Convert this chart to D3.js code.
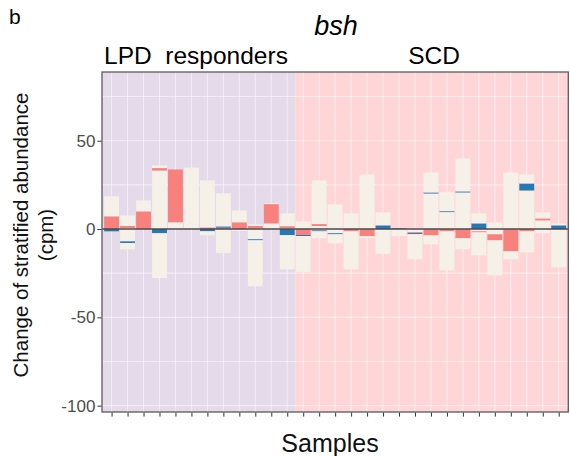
<!DOCTYPE html>
<html>
<head>
<meta charset="utf-8">
<script src="https://cdn.jsdelivr.net/npm/d3@7"></script>
<style>
  body { margin: 0; background: #fff; }
  text { font-family: "Liberation Sans", Arial, sans-serif; }
</style>
</head>
<body>
<div id="chart"></div>
<script>
var svgWidth = 570;
var svgHeight = 456;

var panel = { left: 102, right: 568.3, top: 72, bottom: 412 };

// samples, in plot order
var samples = d3.range(1, 30).map(function (i) { return "S" + i; });
var groupNames = ["LPD responders", "SCD"];
var groupSizes = [12, 17];

// fill keys: o = other taxa, a = salmon taxon, b = blue taxon
var fillColors = { o: "#F5F0E8", a: "#F8807D", b: "#2677B4" };

// positive stacks, from zero upward: [key, size in cpm]
var posStacks = [
  [["a", 7.2], ["o", 11.3]],
  [["o", 0.6], ["a", 1.1], ["o", 6.0]],
  [["a", 10.0], ["o", 6.2]],
  [["o", 33.1], ["a", 1.4], ["o", 1.5]],
  [["o", 3.8], ["a", 29.9]],
  [["o", 34.8]],
  [["a", 0.9], ["o", 26.6]],
  [["a", 0.8], ["b", 0.7], ["o", 18.7]],
  [["a", 3.8], ["o", 6.7]],
  [["o", 0.4], ["a", 1.3], ["o", 0.9]],
  [["o", 3.2], ["a", 10.9], ["o", 0.4]],
  [["o", 0.5], ["a", 1.1], ["o", 7.3]],
  [["o", 4.3]],
  [["o", 1.7], ["a", 1.1], ["o", 24.7]],
  [["o", 13.9]],
  [["o", 8.9]],
  [["o", 30.9]],
  [["b", 2.1], ["o", 7.3]],
  [["b", 0.4]],
  [],
  [["o", 20.1], ["b", 0.6], ["o", 11.3]],
  [["o", 9.6], ["b", 0.5], ["o", 10.7]],
  [["o", 20.7], ["b", 0.6], ["o", 18.6]],
  [["b", 3.2], ["o", 5.7]],
  [["o", 3.8]],
  [["o", 32.0]],
  [["o", 21.8], ["b", 4.0], ["o", 5.1]],
  [["o", 4.9], ["a", 1.1], ["o", 3.4]],
  [["b", 2.1], ["o", 1.1]]
];

// negative stacks, from zero downward: [key, size in cpm]
var negStacks = [
  [["b", 1.3]],
  [["o", 7.0], ["b", 0.9], ["o", 3.6]],
  [],
  [["b", 2.4], ["o", 25.4]],
  [],
  [],
  [["b", 1.3], ["o", 2.3]],
  [["o", 13.6]],
  [["o", 1.1]],
  [["o", 5.8], ["b", 0.6], ["o", 26.0]],
  [],
  [["b", 3.5], ["o", 19.3]],
  [["a", 3.4], ["b", 0.6], ["o", 20.3]],
  [["o", 0.75], ["b", 0.55], ["o", 3.9]],
  [["o", 2.4], ["b", 0.6], ["o", 5.1]],
  [["a", 1.3], ["o", 21.5]],
  [["a", 4.0], ["o", 1.2]],
  [["o", 14.1]],
  [["o", 4.0]],
  [["o", 1.8], ["a", 0.5], ["b", 0.6], ["o", 14.2]],
  [["a", 3.6], ["o", 5.1]],
  [["a", 1.3], ["o", 22.1]],
  [["a", 5.2], ["o", 6.3]],
  [["o", 1.3], ["a", 0.6], ["o", 13.0]],
  [["o", 3.0], ["a", 3.4], ["o", 19.8]],
  [["a", 12.6], ["o", 4.5]],
  [["a", 1.3], ["o", 11.9]],
  [["o", 2.4]],
  [["o", 21.7]]
];

var yTicks = [-100, -50, 0, 50];
var yMinorTicks = [-75, -25, 25, 75];

var svg = d3.select("#chart")
  .append("svg")
  .attr("width", svgWidth)
  .attr("height", svgHeight);

var x = d3.scaleBand()
  .domain(samples)
  .range([panel.left, panel.right])
  .paddingInner(0.07)
  .paddingOuter(0.135);

var xPoint = d3.scalePoint()
  .domain(samples)
  .range([panel.left, panel.right])
  .padding(0.6);

var y = d3.scaleLinear()
  .domain([-103.6, 88.9])
  .range([panel.bottom, panel.top]);

// group background rects
var boundary = (xPoint(samples[groupSizes[0] - 1]) + xPoint(samples[groupSizes[0]])) / 2;
var groupSpans = [[panel.left, boundary], [boundary, panel.right]];
var groupFills = ["#E4DAEA", "#FFD6D7"];
var labelX = [196, 434];

svg.append("rect")
  .attr("x", panel.left).attr("y", panel.top)
  .attr("width", panel.right - panel.left)
  .attr("height", panel.bottom - panel.top)
  .attr("fill", "#fff");

svg.selectAll(".groupBg")
  .data(groupSpans)
  .enter()
  .append("rect")
  .attr("class", "groupBg")
  .attr("x", d => d[0])
  .attr("y", panel.top)
  .attr("width", d => d[1] - d[0])
  .attr("height", panel.bottom - panel.top)
  .attr("fill", (d, i) => groupFills[i]);

// grid lines
var grid = svg.append("g")
  .attr("stroke", "#fff")
  .attr("stroke-opacity", 0.5)
  .attr("stroke-width", 1.1);

grid.selectAll(".hgrid")
  .data(yTicks.concat(yMinorTicks))
  .enter()
  .append("line")
  .attr("x1", panel.left).attr("x2", panel.right)
  .attr("y1", d => y(d)).attr("y2", d => y(d));

grid.selectAll(".vgrid")
  .data(samples)
  .enter()
  .append("line")
  .attr("y1", panel.top).attr("y2", panel.bottom)
  .attr("x1", d => xPoint(d)).attr("x2", d => xPoint(d));

// stacked bars
var segments = [];
samples.forEach(function (s, i) {
  var acc = 0;
  posStacks[i].forEach(function (p) {
    segments.push({ sample: s, key: p[0], y0: acc, y1: acc + p[1] });
    acc += p[1];
  });
  acc = 0;
  negStacks[i].forEach(function (p) {
    segments.push({ sample: s, key: p[0], y0: acc - p[1], y1: acc });
    acc -= p[1];
  });
});

svg.append("g")
  .selectAll("rect")
  .data(segments)
  .enter()
  .append("rect")
  .attr("x", d => x(d.sample))
  .attr("width", x.bandwidth())
  .attr("y", d => y(d.y1))
  .attr("height", d => y(d.y0) - y(d.y1))
  .attr("fill", d => fillColors[d.key]);

// zero line
svg.append("line")
  .attr("x1", panel.left).attr("x2", panel.right)
  .attr("y1", y(0)).attr("y2", y(0))
  .attr("stroke", "#4a4a4a")
  .attr("stroke-width", 1.6);

// panel border
svg.append("rect")
  .attr("x", panel.left).attr("y", panel.top)
  .attr("width", panel.right - panel.left)
  .attr("height", panel.bottom - panel.top)
  .attr("fill", "none")
  .attr("stroke", "#5a5a5a")
  .attr("stroke-width", 1.3);

// axes
var leftAxis = d3.axisLeft(y).tickValues(yTicks).tickSize(4).tickPadding(2)
  .tickFormat(d => String(d));
var yAxisG = svg.append("g")
  .attr("transform", `translate(${panel.left - 0.6}, 0)`)
  .call(leftAxis);
yAxisG.select(".domain").remove();
yAxisG.selectAll("line").attr("stroke", "#333");
yAxisG.selectAll("text")
  .attr("font-size", 17)
  .attr("fill", "#4D4D4D")
  .style("font-family", "'Liberation Sans', Arial, sans-serif");

var bottomAxis = d3.axisBottom(xPoint).tickSize(4).tickFormat("");
var xAxisG = svg.append("g")
  .attr("transform", `translate(0, ${panel.bottom + 0.6})`)
  .call(bottomAxis);
xAxisG.select(".domain").remove();
xAxisG.selectAll("line").attr("stroke", "#333");

// titles
svg.append("text")
  .attr("x", 9).attr("y", 24)
  .attr("font-size", 21)
  .text("b");

svg.append("text")
  .attr("x", 336).attr("y", 35)
  .attr("text-anchor", "middle")
  .attr("font-size", 27)
  .attr("font-style", "italic")
  .text("bsh");

svg.selectAll(".groupLabel")
  .data(groupNames)
  .enter()
  .append("text")
  .attr("class", "groupLabel")
  .attr("x", (d, i) => labelX[i])
  .attr("y", 64)
  .attr("text-anchor", "middle")
  .attr("font-size", 24.5)
  .style("white-space", "pre")
  .text(d => d.replace(" ", "  "));

var yTitle = svg.append("text")
  .attr("transform", "translate(28, 235) rotate(-90)")
  .attr("text-anchor", "middle")
  .attr("font-size", 20.5)
  .attr("fill", "#111");
yTitle.append("tspan").attr("x", 0).attr("y", 0).text("Change of stratified abundance");
yTitle.append("tspan").attr("x", 0).attr("y", 25).text("(cpm)");

svg.append("text")
  .attr("x", 330).attr("y", 452)
  .attr("text-anchor", "middle")
  .attr("font-size", 25)
  .attr("fill", "#111")
  .text("Samples");
</script>
</body>
</html>
